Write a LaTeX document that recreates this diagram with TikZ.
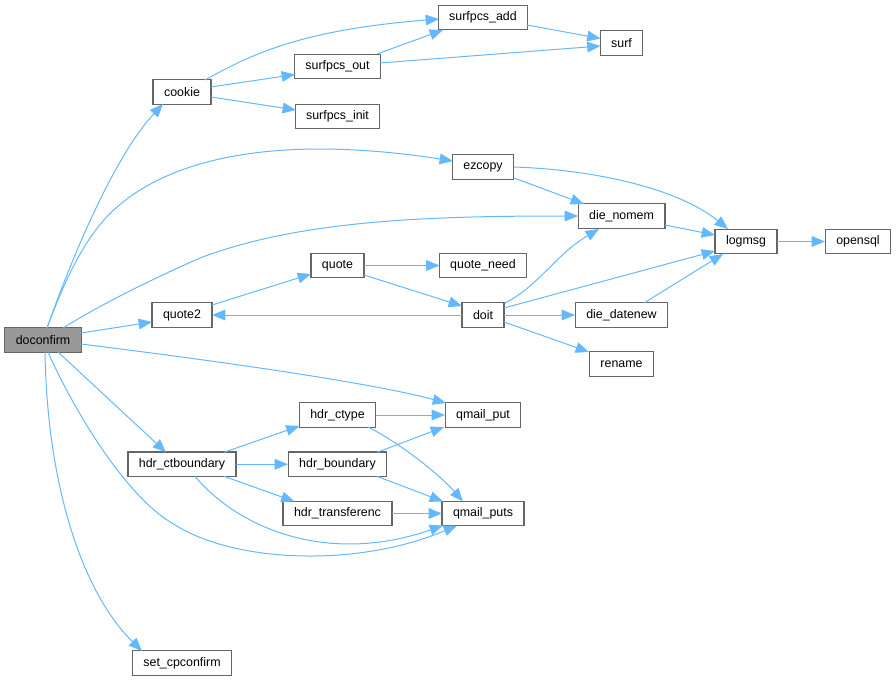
\documentclass[tikz,border=0pt]{standalone}
\usepackage{fontspec}
\setmainfont{Liberation Sans}
\usetikzlibrary{arrows.meta}
\definecolor{edgeblue}{HTML}{63B8FF}
\definecolor{boxgray}{HTML}{666666}
\definecolor{rootfill}{HTML}{999999}
\tikzset{
  fn/.style={draw=boxgray, fill=white, line width=0.9pt, minimum height=18.5pt,
    inner xsep=8.25pt, inner ysep=0pt, font=\fontsize{9.3pt}{11pt}\selectfont, text=black},
  rootfn/.style={fn, fill=rootfill},
  call/.style={draw=edgeblue, line width=0.75pt, -{Triangle[length=10pt,width=8pt]}, edgeblue},
}
\begin{document}
\begin{tikzpicture}[x=0.75pt,y=-0.75pt]
\useasboundingbox (0,0) rectangle (896,681);
% nodes
\node[rootfn] (D)  at (43,340)    {doconfirm};
\node[fn] (C)  at (182,92)    {cookie};
\node[fn] (SA) at (483,17.5)  {surfpcs\_add};
\node[fn] (SO) at (337.5,66.5) {surfpcs\_out};
\node[fn] (SI) at (337.5,116.5) {surfpcs\_init};
\node[fn] (SF) at (621.5,43)  {surf};
\node[fn] (EZ) at (483,167)   {ezcopy};
\node[fn] (DN) at (621.5,216) {die\_nomem};
\node[fn] (LG) at (746,241.5) {logmsg};
\node[fn] (OS) at (858,241.5) {opensql};
\node[fn] (QU) at (337.5,265.5) {quote};
\node[fn] (QN) at (483,265.5) {quote\_need};
\node[fn] (Q2) at (182,315)   {quote2};
\node[fn] (DO) at (483,315)   {doit};
\node[fn] (DD) at (621.5,315) {die\_datenew};
\node[fn] (RN) at (621.5,364) {rename};
\node[fn] (HC) at (337.5,415) {hdr\_ctype};
\node[fn] (QP) at (483,415)   {qmail\_put};
\node[fn] (HB) at (182,464.3) {hdr\_ctboundary};
\node[fn] (HBd) at (337.5,464.3) {hdr\_boundary};
\node[fn] (HT) at (337.5,513.5) {hdr\_transferenc};
\node[fn] (QS) at (483,513.5) {qmail\_puts};
\node[fn] (SC) at (182,663)   {set\_cpconfirm};
% edges from doconfirm
\draw[call] ([shift={(4,-12)}]D.center) .. controls (80,235) and (120,150) .. ([shift={(-19,12)}]C.center);
\draw[call] ([shift={(4,-12)}]D.center) .. controls (65,280) and (85,235) .. (117,207)
   .. controls (200,135) and (350,145) .. ([shift={(-30,-6)}]EZ.center);
\draw[call] ([shift={(20,-12)}]D.center) .. controls (100,305) and (150,280) .. (200,258)
   .. controls (300,220) and (430,216) .. ([shift={(-43.5,0)}]DN.center);
\draw[call] ([shift={(38,-7)}]D.center) -- ([shift={(-30,7)}]Q2.center);
\draw[call] ([shift={(38,4)}]D.center) .. controls (250,365) and (380,385) .. ([shift={(-37,-12)}]QP.center);
\draw[call] ([shift={(15,12)}]D.center) -- ([shift={(-16,-12)}]HB.center);
\draw[call] ([shift={(5,12)}]D.center) .. controls (75,413) and (127,497) .. (172,523)
   .. controls (232,563) and (357,568) .. ([shift={(-26,12)}]QS.center);
\draw[call] ([shift={(2,12)}]D.center) .. controls (47,480) and (80,590) .. ([shift={(-40,-12)}]SC.center);
% hdr_ctboundary
\draw[call] ([shift={(42,-12)}]HB.center) -- ([shift={(-38,11)}]HC.center);
\draw[call] ([shift={(54,0)}]HB.center) -- ([shift={(-49.5,0)}]HBd.center);
\draw[call] ([shift={(42,12)}]HB.center) -- ([shift={(-43,-12)}]HT.center);
\draw[call] ([shift={(13,12)}]HB.center) .. controls (240,530) and (330,565) .. ([shift={(-40,12)}]QS.center);
% hdr_* to qmail
\draw[call] ([shift={(38,0)}]HC.center) -- ([shift={(-38,0)}]QP.center);
\draw[call] ([shift={(30.5,12)}]HC.center) .. controls (400,443) and (440,475) .. ([shift={(-20,-12)}]QS.center);
\draw[call] ([shift={(39.5,-12)}]HBd.center) -- ([shift={(-39,12)}]QP.center);
\draw[call] ([shift={(39.5,12)}]HBd.center) -- ([shift={(-40,-12)}]QS.center);
\draw[call] ([shift={(54,0)}]HT.center) -- ([shift={(-41,0)}]QS.center);
% cookie
\draw[call] ([shift={(23,-12)}]C.center) .. controls (250,55) and (300,30) .. ([shift={(-44,1.5)}]SA.center);
\draw[call] ([shift={(29,-5)}]C.center) -- ([shift={(-42.5,8)}]SO.center);
\draw[call] ([shift={(29,5)}]C.center) -- ([shift={(-41.5,-6.5)}]SI.center);
\draw[call] ([shift={(39.5,-12.5)}]SO.center) -- ([shift={(-40,12.5)}]SA.center);
\draw[call] ([shift={(42.5,-3.5)}]SO.center) -- ([shift={(-21,3)}]SF.center);
\draw[call] ([shift={(44,7.5)}]SA.center) -- ([shift={(-21,-4.5)}]SF.center);
% ezcopy
\draw[call] ([shift={(31,11)}]EZ.center) -- ([shift={(-37.5,-12)}]DN.center);
\draw[call] ([shift={(31,0)}]EZ.center) .. controls (600,170) and (680,190) .. ([shift={(-18,-12.5)}]LG.center);
\draw[call] ([shift={(43.5,9)}]DN.center) -- ([shift={(-31,-6.5)}]LG.center);
\draw[call] ([shift={(31,0)}]LG.center) -- ([shift={(-33,0)}]OS.center);
% quote
\draw[call] ([shift={(30,-10)}]Q2.center) -- ([shift={(-26.5,8.5)}]QU.center);
\draw[call] ([shift={(26.5,0)}]QU.center) -- ([shift={(-43.5,0)}]QN.center);
\draw[call] ([shift={(26.5,9.5)}]QU.center) -- ([shift={(-21,-9)}]DO.center);
% doit
\draw[call] ([shift={(-21,0)}]DO.center) -- ([shift={(30,0)}]Q2.center);
\draw[call] ([shift={(22,-12)}]DO.center) .. controls (540,285) and (555,255) .. ([shift={(-22.5,13)}]DN.center);
\draw[call] ([shift={(21,-7)}]DO.center) -- ([shift={(-31,9.5)}]LG.center);
\draw[call] ([shift={(21,0)}]DO.center) -- ([shift={(-46.5,0)}]DD.center);
\draw[call] ([shift={(21,7)}]DO.center) -- ([shift={(-32.5,-12)}]RN.center);
\draw[call] ([shift={(22.5,-12)}]DD.center) -- ([shift={(-23,12.5)}]LG.center);
\end{tikzpicture}
\end{document}
